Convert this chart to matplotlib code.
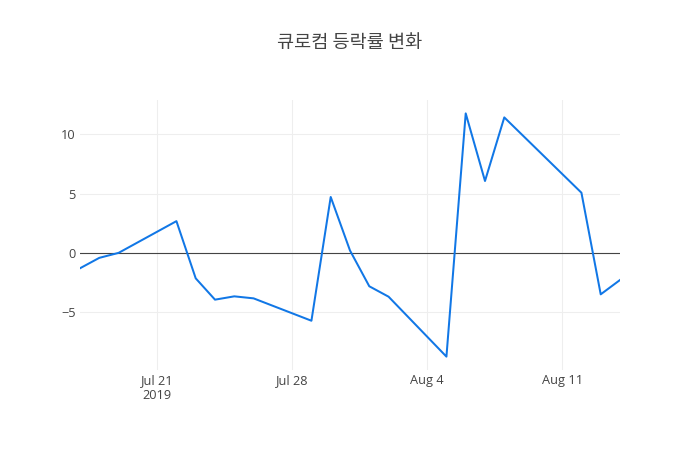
import matplotlib
matplotlib.use("Agg")
import matplotlib.pyplot as plt
import matplotlib.dates as mdates
import numpy as np
import datetime as dt

dates = ["2019-07-17", "2019-07-18", "2019-07-19", "2019-07-22", "2019-07-23",
         "2019-07-24", "2019-07-25", "2019-07-26", "2019-07-29", "2019-07-30",
         "2019-07-31", "2019-08-01", "2019-08-02", "2019-08-05", "2019-08-06",
         "2019-08-07", "2019-08-08", "2019-08-12", "2019-08-13", "2019-08-14"]
values = [-1.30, -0.42, 0.0, 2.68, -2.15,
          -3.95, -3.67, -3.84, -5.73, 4.72,
          0.2, -2.82, -3.70, -8.76, 11.78,
          6.07, 11.44, 5.08, -3.50, -2.29]
title = "큐로컴 등락률 변화"
xtick_dates = ["2019-07-21", "2019-07-28", "2019-08-04", "2019-08-11"]
xtick_labels = ["Jul 21\n2019", "Jul 28", "Aug 4", "Aug 11"]
ytick_vals = [-5, 0, 5, 10]
ytick_labels = ["\u22125", "0", "5", "10"]

plt.rcParams['font.family'] = ['Open Sans', 'Noto Sans CJK KR', 'DejaVu Sans']

x = [dt.datetime.strptime(d, "%Y-%m-%d") for d in dates]
xt = [dt.datetime.strptime(d, "%Y-%m-%d") for d in xtick_dates]

fig = plt.figure(figsize=(7, 4.5), dpi=100)
ax = fig.add_axes([80/700, 80/450, 540/700, 270/450])
ax.plot(x, values, color="#1177e6", linewidth=1.45, zorder=3)
ax.axhline(0, color="#444444", linewidth=0.8, zorder=2)

ax.set_xlim(x[0], x[-1])
lo, hi = min(values), max(values)
pad = (hi - lo) * 0.055
ax.set_ylim(lo - pad, hi + pad)

ax.set_xticks(xt)
ax.set_xticklabels(xtick_labels, fontsize=9.2, color="#444444", linespacing=1.2, va="top")
ax.set_yticks(ytick_vals)
ax.set_yticklabels(ytick_labels, fontsize=9.2, color="#444444")
ax.tick_params(axis="both", length=0)
ax.tick_params(axis="x", pad=3)
ax.tick_params(axis="y", pad=3)
ax.grid(True, color="#eeeeee", linewidth=0.8, zorder=0)
for s in ax.spines.values():
    s.set_visible(False)

fig.text(350/700, 1 - 43/450, title, ha="center", va="center", fontsize=13.4,
         color="#444444", family=['Noto Sans CJK KR', 'DejaVu Sans'])

fig.savefig("out.png", dpi=100)
